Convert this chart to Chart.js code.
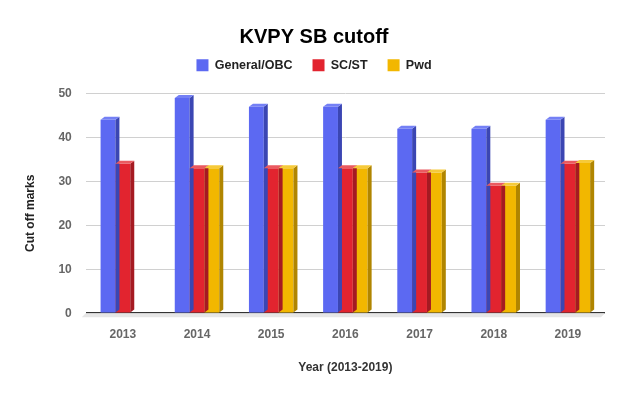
<!DOCTYPE html>
<html>
<head>
<meta charset="utf-8">
<script src="https://cdn.jsdelivr.net/npm/chart.js@4"></script>
<style>
  html, body { margin: 0; padding: 0; background: #fff; }
  #wrap { width: 633px; height: 399px; }
</style>
</head>
<body>
<div id="wrap"><canvas id="cutoffChart"></canvas></div>
<script>
const years = ['2013', '2014', '2015', '2016', '2017', '2018', '2019'];
const generalObc = [44, 49, 47, 47, 42, 42, 44];
const scSt = [34, 33, 33, 33, 32, 29, 34];
const pwd = [null, 33, 33, 33, 32, 29, 34.2];
const yTicks = [0, 10, 20, 30, 40, 50];

const seriesColors = {
    'General/OBC': { front: '#5c69f2', side: '#3b46b3', top: '#7480f5' },
    'SC/ST': { front: '#e2242f', side: '#a51a22', top: '#ea5a60' },
    'Pwd': { front: '#f2b700', side: '#b08500', top: '#f6ca3a' },
};

const DX = 4, DY = 3; // fake depth of the bars

// draws the floor strip, side and top faces so bars look like Sheets' 3D bars
const depthPlugin = {
    id: 'depth',
    beforeDatasetsDraw(chart) {
        const { ctx, chartArea } = chart;
        const y0 = chart.scales.y.getPixelForValue(0);
        ctx.save();
        ctx.fillStyle = '#e6e6e6';
        ctx.beginPath();
        ctx.moveTo(chartArea.left, y0);
        ctx.lineTo(chartArea.right, y0);
        ctx.lineTo(chartArea.right - DX, y0 + DY + 1);
        ctx.lineTo(chartArea.left - DX, y0 + DY + 1);
        ctx.closePath();
        ctx.fill();
        ctx.restore();
    },
    afterDatasetsDraw(chart) {
        const { ctx } = chart;
        ctx.save();
        chart.data.datasets.forEach((ds, i) => {
            const c = seriesColors[ds.label];
            chart.getDatasetMeta(i).data.forEach((bar, j) => {
                if (ds.data[j] == null) return;
                const { x, y, base, width } = bar.getProps(['x', 'y', 'base', 'width'], true);
                const l = x - width / 2, r = x + width / 2;
                ctx.fillStyle = c.side;
                ctx.beginPath();
                ctx.moveTo(r, y);
                ctx.lineTo(r + DX, y - DY);
                ctx.lineTo(r + DX, base - DY);
                ctx.lineTo(r, base);
                ctx.closePath();
                ctx.fill();
                ctx.fillStyle = c.top;
                ctx.beginPath();
                ctx.moveTo(l, y);
                ctx.lineTo(l + DX, y - DY);
                ctx.lineTo(r + DX, y - DY);
                ctx.lineTo(r, y);
                ctx.closePath();
                ctx.fill();
            });
        });
        ctx.restore();
    }
};

// extra room under the legend
const legendGap = {
    id: 'legendGap',
    beforeInit(chart) {
        const fit = chart.legend.fit;
        chart.legend.fit = function () {
            fit.bind(chart.legend)();
            this.height += 12;
        };
    }
};

const makeSet = (label, data) => ({
    label,
    data,
    backgroundColor: seriesColors[label].front,
    borderWidth: 0,
    categoryPercentage: 0.6,
    barPercentage: 1.0,
});

const font = { family: 'Arial, "Liberation Sans", sans-serif', weight: 'bold', size: 12 };

new Chart(document.getElementById('cutoffChart'), {
    type: 'bar',
    data: {
        labels: years,
        datasets: [
            makeSet('General/OBC', generalObc),
            makeSet('SC/ST', scSt),
            makeSet('Pwd', pwd),
        ]
    },
    options: {
        responsive: true,
        maintainAspectRatio: false,
        animation: false,
        layout: { padding: { left: 23, right: 28, top: 14, bottom: 20 } },
        plugins: {
            title: {
                display: true,
                text: 'KVPY SB cutoff',
                color: '#000',
                font: { ...font, size: 20 },
                padding: { top: 11, bottom: -10 }
            },
            legend: {
                labels: {
                    color: '#222',
                    font: { ...font, size: 12.5 },
                    boxWidth: 12,
                    boxHeight: 12,
                    padding: 20
                }
            },
            tooltip: { enabled: false }
        },
        scales: {
            x: {
                grid: { display: false },
                border: { display: false },
                ticks: { color: '#666', font, padding: 6 },
                title: { display: true, text: 'Year (2013-2019)', color: '#333', font, padding: { top: 13 } }
            },
            y: {
                min: 0,
                max: 50,
                afterBuildTicks: scale => { scale.ticks = yTicks.map(v => ({ value: v })); },
                grid: {
                    color: ctx => ctx.tick.value === 0 ? '#333' : '#d0d0d0',
                    lineWidth: ctx => ctx.tick.value === 0 ? 1.5 : 1,
                    drawTicks: false
                },
                border: { display: false },
                ticks: { color: '#666', font, padding: 14 },
                title: { display: true, text: 'Cut off marks' + '\u00a0'.repeat(6), color: '#222', font, padding: { top: 0, bottom: 7 } }
            }
        }
    },
    plugins: [depthPlugin, legendGap]
});
</script>
</body>
</html>
